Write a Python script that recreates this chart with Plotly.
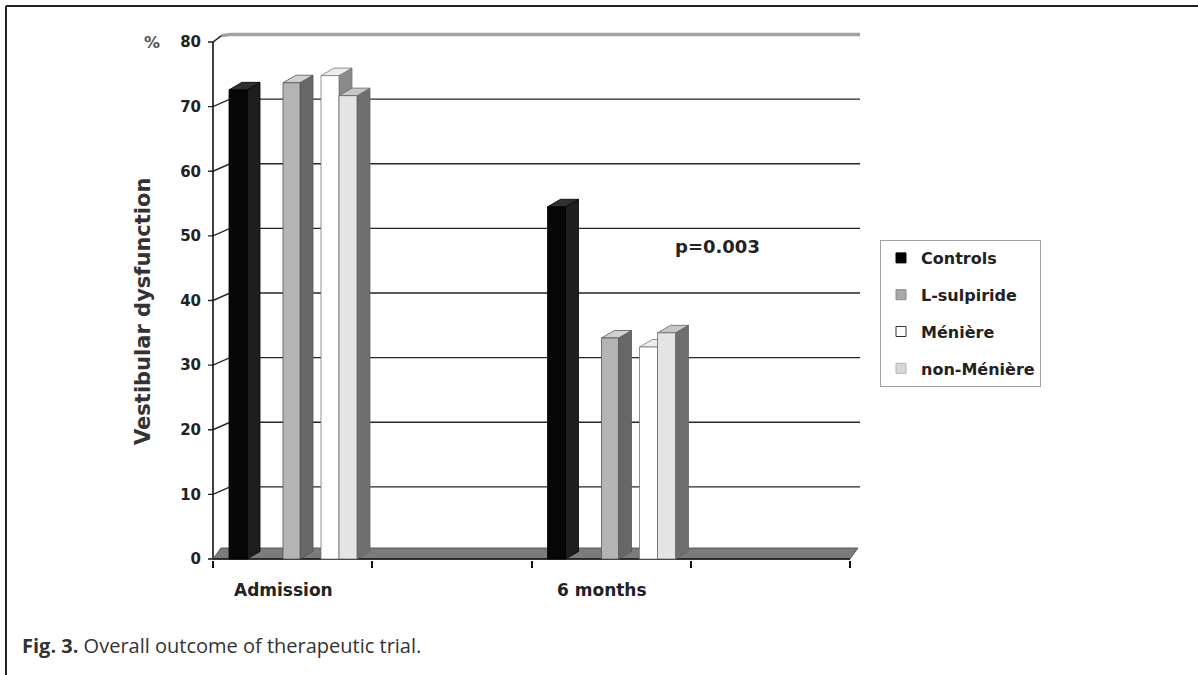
import plotly.graph_objects as go

# ---------------- data ----------------
categories = ["Admission", "6 months"]
series_names = ["Controls", "L-sulpiride", "Ménière", "non-Ménière"]
controls = [72.6, 54.5]
l_sulpiride = [73.7, 34.2]
meniere = [74.8, 32.8]
non_meniere = [71.7, 35.0]
y_ticks = [0, 10, 20, 30, 40, 50, 60, 70, 80]
y_title = "Vestibular dysfunction"
y_unit = "%"
p_text = "p=0.003"
p_value_pos = 48.4
caption_bold = "Fig. 3."
caption_rest = "Overall outcome of therapeutic trial."

values = [controls, l_sulpiride, meniere, non_meniere]

# ---------------- styles / geometry ----------------
front_colors = ["#070707", "#b4b4b4", "#ffffff", "#e4e4e4"]
side_colors = ["#1e1e1e", "#676767", "#8a8a8a", "#6e6e6e"]
cap_colors = ["#303030", "#d0d0d0", "#ededed", "#c6c6c6"]
edge_colors = ["#000000", "#555555", "#777777", "#666666"]
legend_colors = ["#000000", "#a9a9a9", "#ffffff", "#d9d9d9"]
legend_edges = ["#000000", "#8a8a8a", "#333333", "#b5b5b5"]

FIG_W, FIG_H = 1198, 675
L_PX, R_PX, T_PX, B_PX = 208, 870, 29, 560   # plot area in pixels
PX_X = 159.25                                  # pixels per x unit (one slot)
PX_Y = 6.4625                                  # pixels per y unit
X0_PX = 213                                    # pixel of x = 0
Y0_PX = 559                                    # pixel of y = 0

x_min = (L_PX - X0_PX) / PX_X
x_max = (R_PX - X0_PX) / PX_X
y_min = (Y0_PX - B_PX) / PX_Y
y_max = (Y0_PX - T_PX) / PX_Y

bar_left_px = [16, 70, 108, 126]
bar_width_px = [18, 17, 18, 18]
DX = 13 / PX_X
DY = 7.5 / PX_Y
WALL_DX = 17 / PX_X
WALL_DY = 7.5 / PX_Y
GRID_END = (860 - X0_PX) / PX_X
TICK_LEN = 7 / PX_X
SLOTS_PER_CAT = 2
N_SLOTS = len(categories) * SLOTS_PER_CAT
FLOOR_H = 1.7

FONT = "DejaVu Sans"


def pxx(px):
    return (px - L_PX) / (R_PX - L_PX)


def pxy(py):
    return (B_PX - py) / (B_PX - T_PX)


fig = go.Figure()

# back wall gridlines with slanted side-wall edges and tick marks
for v in y_ticks:
    if v == 0:
        fig.add_trace(go.Scatter(x=[-TICK_LEN, 0], y=[v, v], mode="lines",
                                 line=dict(color="#111", width=1.5),
                                 hoverinfo="skip", showlegend=False))
        continue
    if v == y_ticks[-1]:
        fig.add_trace(go.Scatter(x=[WALL_DX * 0.5, WALL_DX, GRID_END],
                                 y=[v + WALL_DY * 0.85, v + WALL_DY, v + WALL_DY],
                                 mode="lines", line=dict(color="#a2a2a2", width=3.5),
                                 hoverinfo="skip", showlegend=False))
        fig.add_trace(go.Scatter(x=[-TICK_LEN, 0, WALL_DX * 0.5],
                                 y=[v, v, v + WALL_DY * 0.85],
                                 mode="lines", line=dict(color="#222", width=1.5),
                                 hoverinfo="skip", showlegend=False))
    else:
        fig.add_trace(go.Scatter(x=[-TICK_LEN, 0, WALL_DX, GRID_END],
                                 y=[v, v, v + WALL_DY, v + WALL_DY],
                                 mode="lines", line=dict(color="#262626", width=1.4),
                                 hoverinfo="skip", showlegend=False))

# front vertical axis line
fig.add_trace(go.Scatter(x=[0, 0], y=[0, y_ticks[-1]], mode="lines",
                         line=dict(color="#111", width=1.6),
                         hoverinfo="skip", showlegend=False))

# floor slab
fig.add_trace(go.Scatter(x=[0, N_SLOTS, N_SLOTS + 0.05, 0.05, 0],
                         y=[0, 0, FLOOR_H, FLOOR_H, 0],
                         mode="lines", fill="toself", fillcolor="#7b7b7b",
                         line=dict(color="#5a5a5a", width=1),
                         hoverinfo="skip", showlegend=False))
fig.add_trace(go.Scatter(x=[0, N_SLOTS], y=[0, 0], mode="lines",
                         line=dict(color="#111", width=1.6),
                         hoverinfo="skip", showlegend=False))

# 3-D style bars
for ci, cat in enumerate(categories):
    base = ci * SLOTS_PER_CAT
    for si, name in enumerate(series_names):
        v = values[si][ci]
        x0 = base + bar_left_px[si] / PX_X
        x1 = x0 + bar_width_px[si] / PX_X
        # side face
        fig.add_trace(go.Scatter(x=[x1, x1 + DX, x1 + DX, x1, x1],
                                 y=[0, DY, v + DY, v, 0],
                                 mode="lines", fill="toself", fillcolor=side_colors[si],
                                 line=dict(color=edge_colors[si], width=0.8),
                                 hoverinfo="skip", showlegend=False))
        # top cap
        fig.add_trace(go.Scatter(x=[x0, x0 + DX, x1 + DX, x1, x0],
                                 y=[v, v + DY, v + DY, v, v],
                                 mode="lines", fill="toself", fillcolor=cap_colors[si],
                                 line=dict(color=edge_colors[si], width=0.8),
                                 hoverinfo="skip", showlegend=False))
        # front face
        fig.add_trace(go.Scatter(x=[x0, x1, x1, x0, x0],
                                 y=[0, 0, v, v, 0],
                                 mode="lines", fill="toself", fillcolor=front_colors[si],
                                 line=dict(color=edge_colors[si], width=0.8),
                                 name=name, hovertemplate=f"{name}<br>{cat}: {v}<extra></extra>",
                                 showlegend=False))

# legend entries
for si, name in enumerate(series_names):
    fig.add_trace(go.Scatter(x=[None], y=[None], mode="markers", name=name,
                             legendgroup=name,
                             marker=dict(symbol="square", size=10, color=legend_colors[si],
                                         line=dict(color=legend_edges[si], width=1))))

annotations = []
# category labels
for ci, cat in enumerate(categories):
    annotations.append(dict(x=ci * SLOTS_PER_CAT + 0.44, xref="x", y=pxy(590), yref="paper",
                            text=cat, showarrow=False, xanchor="center", yanchor="middle",
                            font=dict(family=FONT, size=17, color="#222", weight="bold")))
# unit
annotations.append(dict(x=pxx(152), xref="paper", y=y_ticks[-1], yref="y", text=y_unit,
                        showarrow=False, xanchor="center", yanchor="middle",
                        font=dict(family=FONT, size=16, color="#555", weight="bold")))
# y title
annotations.append(dict(x=pxx(143), xref="paper", y=pxy(312), yref="paper", text=y_title,
                        textangle=-90, showarrow=False, xanchor="center", yanchor="middle",
                        font=dict(family=FONT, size=21, color="#333", weight="bold")))
# p value
annotations.append(dict(x=(717 - X0_PX) / PX_X, xref="x", y=p_value_pos, yref="y", text=p_text,
                        showarrow=False, xanchor="center", yanchor="middle",
                        font=dict(family=FONT, size=18, color="#222", weight="bold")))
# caption
annotations.append(dict(x=pxx(20), xref="paper", y=pxy(645), yref="paper",
                        text=f"<b>{caption_bold}</b> {caption_rest}",
                        showarrow=False, xanchor="left", yanchor="middle",
                        font=dict(family="Open Sans", size=20, color="#333")))

shapes = [
    dict(type="line", xref="paper", yref="paper", x0=pxx(6), x1=pxx(1198), y0=pxy(6), y1=pxy(6),
         line=dict(color="#222", width=2)),
    dict(type="line", xref="paper", yref="paper", x0=pxx(6), x1=pxx(6), y0=pxy(6), y1=pxy(675),
         line=dict(color="#222", width=2)),
]

fig.update_layout(
    width=FIG_W, height=FIG_H,
    margin=dict(l=L_PX, r=FIG_W - R_PX, t=T_PX, b=FIG_H - B_PX, pad=0),
    paper_bgcolor="white", plot_bgcolor="white",
    xaxis=dict(range=[x_min, x_max], tickvals=list(range(N_SLOTS + 1)),
               ticktext=[""] * (N_SLOTS + 1), ticks="outside", ticklen=7, tickwidth=1.5,
               tickcolor="#111", showgrid=False, zeroline=False, showline=False, fixedrange=True),
    yaxis=dict(range=[y_min, y_max], tickvals=y_ticks, ticks="", ticklabelstandoff=6,
               tickfont=dict(family=FONT, size=15, color="#222", weight="bold"),
               showgrid=False, zeroline=False, showline=False, fixedrange=True),
    legend=dict(x=pxx(880), y=pxy(240), xanchor="left", yanchor="top",
                bordercolor="#a0a0a0", borderwidth=1, bgcolor="white",
                font=dict(family=FONT, size=16, color="#222", weight="bold"),
                tracegroupgap=13, itemwidth=30),
    annotations=annotations,
    shapes=shapes,
    showlegend=True,
)

fig.write_html("out.html")
